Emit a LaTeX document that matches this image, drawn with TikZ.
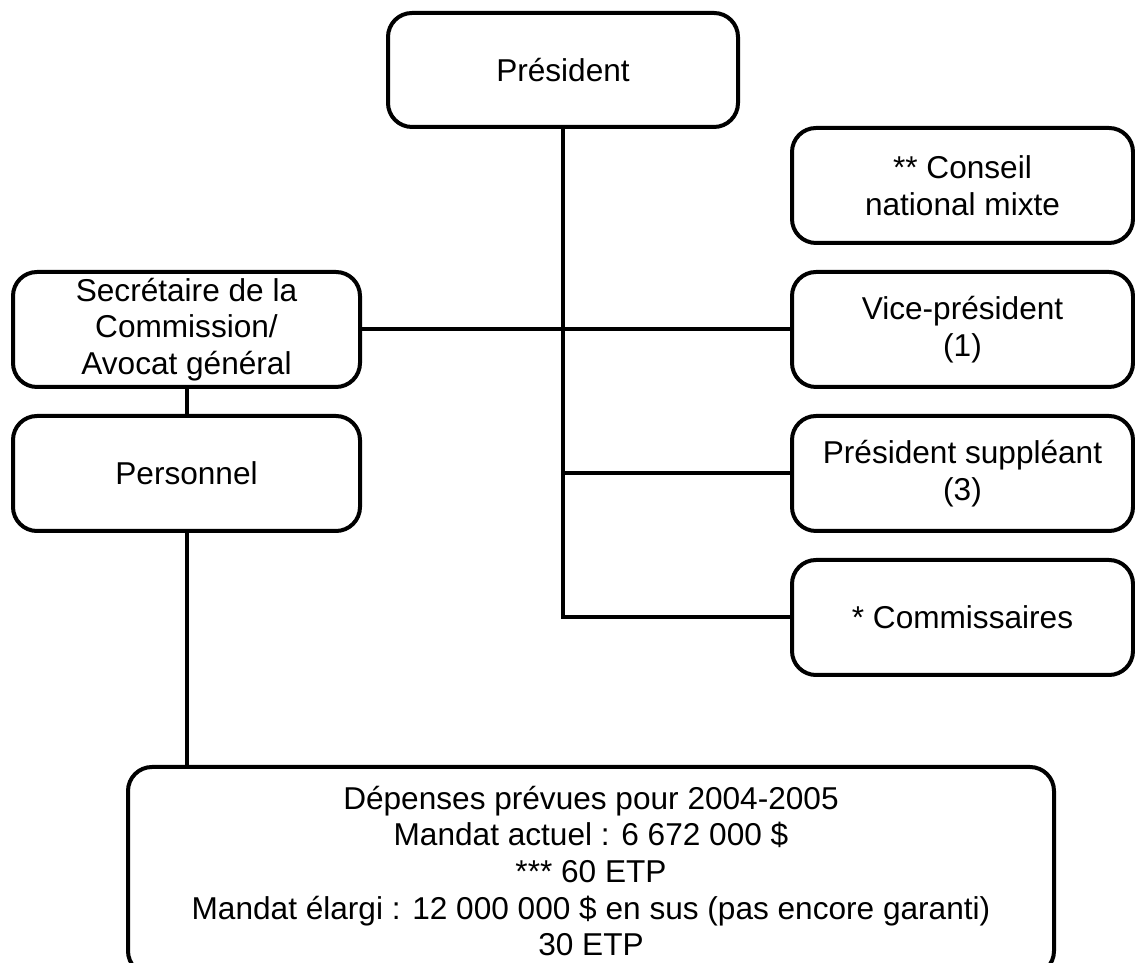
\documentclass[tikz,border=0pt]{standalone}
\usepackage{fontspec}
\setmainfont{Liberation Sans}
\usetikzlibrary{positioning}

\begin{document}
\begin{tikzpicture}[
  node distance=12.5pt and 20pt,
  box/.style={draw, rounded corners=12pt, line width=2pt, align=center,
              minimum width=170.5pt, minimum height=57.5pt, inner sep=2pt,
              font=\fontsize{15.8}{18.3}\selectfont},
  link/.style={line width=2pt},
]
  \useasboundingbox (0,0) rectangle (567.5pt,481.5pt);

  % top and right column
  \node[box, minimum width=175pt, minimum height=57pt] (pres) at (281.5pt,446.5pt) {Président};
  \node[box] (conseil) at (481.25pt,388.75pt) {** Conseil\\national mixte};
  \node[box, below=of conseil] (vice) {Vice-président\\(1)};
  \node[box, below=of vice] (suppl) {Président suppléant\\(3)};
  \node[box, below=of suppl] (comm) {* Commissaires};

  % left column
  \node[box, minimum width=173.5pt] (sec) at (vice -| 93.25pt,0) {Secrétaire de la\\Commission/\\Avocat général};
  \node[box, minimum width=173.5pt, below=of sec] (pers) {Personnel};

  \node[box, minimum width=463pt, minimum height=104pt, anchor=north] (budget) at (295.5pt,99pt)
    {Dépenses prévues pour 2004-2005\\Mandat actuel : 6 672 000 \$\\*** 60 ETP\\
     Mandat élargi : 12 000 000 \$ en sus (pas encore garanti)\\30 ETP};

  \draw[link] (pres.south) |- (vice.west);
  \draw[link] (pres.south) |- (suppl.west);
  \draw[link] (pres.south) |- (comm.west);
  \draw[link] (sec.east) -- (vice.west);
  \draw[link] (sec.south) -- (pers.north);
  \draw[link] (pers.south) -- (pers.south |- budget.north);
\end{tikzpicture}
\end{document}
